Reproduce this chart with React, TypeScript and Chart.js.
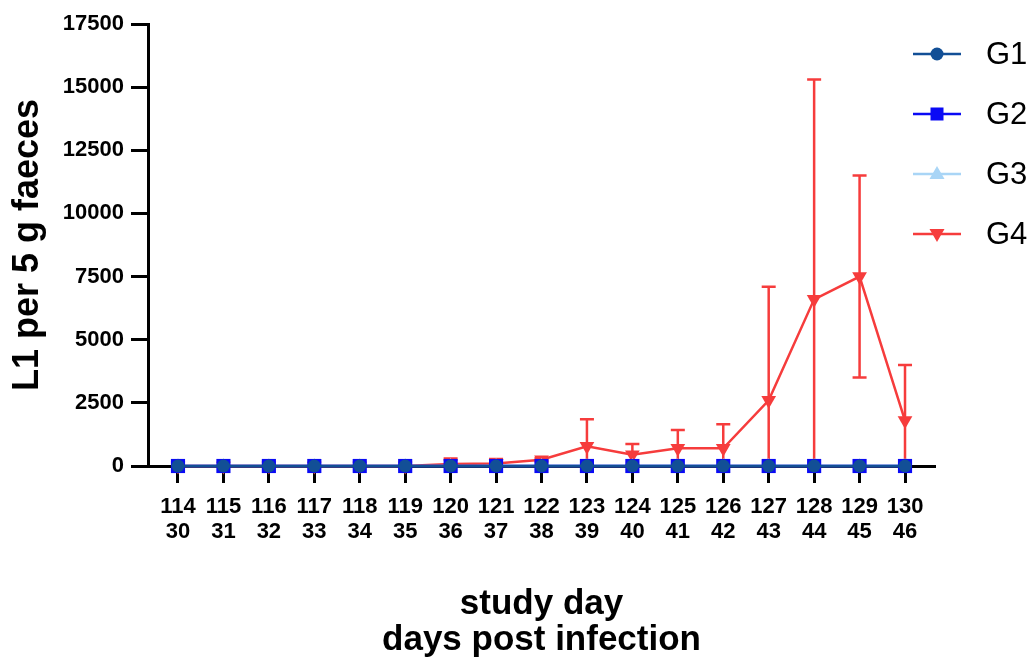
import React, { useEffect, useRef } from "react";
import { Chart, registerables } from "chart.js";

Chart.register(...registerables);

// ---- data ----
const studyDays = [114, 115, 116, 117, 118, 119, 120, 121, 122, 123, 124, 125, 126, 127, 128, 129, 130];
const daysPostInfection = [30, 31, 32, 33, 34, 35, 36, 37, 38, 39, 40, 41, 42, 43, 44, 45, 46];
const g1Values = [0, 0, 0, 0, 0, 0, 0, 0, 0, 0, 0, 0, 0, 0, 0, 0, 0];
const g2Values = [0, 0, 0, 0, 0, 0, 0, 0, 0, 0, 0, 0, 0, 0, 0, 0, 0];
const g3Values = [0, 0, 0, 0, 0, 0, 0, 0, 0, 0, 0, 0, 0, 0, 0, 0, 0];
const g4Mean = [0, 0, 0, 0, 0, 0, 80, 100, 250, 780, 450, 700, 700, 2600, 6600, 7500, 1800];
const g4Sd = [0, 0, 0, 0, 0, 0, 220, 180, 60, 1070, 420, 730, 950, 4500, 8700, 4000, 2200];
const yTicks = [0, 2500, 5000, 7500, 10000, 12500, 15000, 17500];
const seriesNames = ["G1", "G2", "G3", "G4"];

const FONT = "'Liberation Sans', Arial, Helvetica, sans-serif";
const C1 = "#124f96";
const C2 = "#0a0af5";
const C3 = "#a9d5f6";
const C4 = "#f63c3c";

function drawMarker(ctx: CanvasRenderingContext2D, style: string, x: number, y: number, color: string) {
  ctx.save();
  ctx.fillStyle = color;
  ctx.beginPath();
  if (style === "circle") {
    ctx.arc(x, y, 6.5, 0, Math.PI * 2);
  } else if (style === "rect") {
    ctx.rect(x - 6.5, y - 6.5, 13, 13);
  } else if (style === "triangle") {
    ctx.moveTo(x, y - 8);
    ctx.lineTo(x + 7.5, y + 5);
    ctx.lineTo(x - 7.5, y + 5);
    ctx.closePath();
  } else {
    ctx.moveTo(x, y + 8);
    ctx.lineTo(x + 7.5, y - 5);
    ctx.lineTo(x - 7.5, y - 5);
    ctx.closePath();
  }
  ctx.fill();
  ctx.restore();
}

const errorBarPlugin = {
  id: "errorBars",
  beforeDatasetsDraw(chart: any) {
    const ctx = chart.ctx as CanvasRenderingContext2D;
    const yScale = chart.scales.y;
    const meta = chart.getDatasetMeta(3);
    const area = chart.chartArea;
    ctx.save();
    ctx.beginPath();
    ctx.rect(area.left, area.top - 5, area.right - area.left, area.bottom - area.top + 5);
    ctx.clip();
    ctx.strokeStyle = C4;
    ctx.lineWidth = 2.5;
    meta.data.forEach((pt: any, i: number) => {
      const sd = g4Sd[i];
      if (!sd) return;
      const m = g4Mean[i];
      const x = pt.x;
      const yTop = yScale.getPixelForValue(m + sd);
      const lowVal = m - sd;
      const yBot = yScale.getPixelForValue(Math.max(0, lowVal));
      ctx.beginPath();
      ctx.moveTo(x, yBot);
      ctx.lineTo(x, yTop);
      ctx.moveTo(x - 7, yTop);
      ctx.lineTo(x + 7, yTop);
      if (lowVal > 0) {
        ctx.moveTo(x - 7, yBot);
        ctx.lineTo(x + 7, yBot);
      }
      ctx.stroke();
    });
    ctx.restore();
  },
};

const legendPlugin = {
  id: "customLegend",
  afterDraw(chart: any) {
    const ctx = chart.ctx as CanvasRenderingContext2D;
    const colors = [C1, C2, C3, C4];
    const styles = ["circle", "rect", "triangle", "down"];
    ctx.save();
    seriesNames.forEach((name, i) => {
      const y = 54 + i * 60;
      ctx.strokeStyle = colors[i];
      ctx.lineWidth = 2.5;
      ctx.beginPath();
      ctx.moveTo(913, y);
      ctx.lineTo(961, y);
      ctx.stroke();
      drawMarker(ctx, styles[i], 937, y, colors[i]);
      ctx.fillStyle = "#000";
      ctx.font = `31px ${FONT}`;
      ctx.textBaseline = "middle";
      ctx.textAlign = "left";
      ctx.fillText(name, 986, y + 1);
    });
    ctx.restore();
  },
};

export default function App() {
  const canvasRef = useRef<HTMLCanvasElement | null>(null);

  useEffect(() => {
    const canvas = canvasRef.current;
    if (!canvas) return;
    const mk = (vals: number[]) => vals.map((v, i) => ({ x: studyDays[i], y: v }));
    const chart = new Chart(canvas, {
      type: "line",
      data: {
        datasets: [
          {
            label: "G1",
            data: mk(g1Values),
            borderColor: C1,
            backgroundColor: C1,
            borderWidth: 2.5,
            pointStyle: "circle",
            pointRadius: 6.5,
            pointBorderWidth: 0,
            clip: false,
          },
          {
            label: "G2",
            data: mk(g2Values),
            borderColor: C2,
            backgroundColor: C2,
            borderWidth: 2.5,
            pointStyle: "rect",
            pointRadius: 10,
            pointBorderWidth: 0,
            clip: false,
          },
          {
            label: "G3",
            data: mk(g3Values),
            borderColor: C3,
            backgroundColor: C3,
            borderWidth: 2.5,
            pointStyle: "triangle",
            pointRadius: 8,
            pointBorderWidth: 0,
            clip: false,
          },
          {
            label: "G4",
            data: mk(g4Mean),
            borderColor: C4,
            backgroundColor: C4,
            borderWidth: 2.5,
            pointStyle: "triangle",
            pointRotation: 180,
            pointRadius: 8.5,
            pointBorderWidth: 0,
            clip: false,
          },
        ],
      },
      options: {
        animation: false,
        responsive: false,
        maintainAspectRatio: false,
        layout: { padding: { top: 24, right: 100, left: 0, bottom: 0 } },
        plugins: {
          legend: { display: false },
          tooltip: { enabled: false },
        },
        scales: {
          x: {
            type: "linear",
            min: 113.34,
            max: 130.66,
            afterFit(scale: any) {
              scale.height = 193;
            },
            afterBuildTicks(scale: any) {
              scale.ticks = studyDays.map((v) => ({ value: v }));
            },
            ticks: {
              autoSkip: false,
              maxRotation: 0,
              minRotation: 0,
              padding: 11,
              color: "#000",
              font: { family: FONT, size: 22, weight: "bold", lineHeight: 1.15 },
              callback(value: any) {
                const i = studyDays.indexOf(Number(value));
                return [String(value), String(daysPostInfection[i])];
              },
            },
            grid: {
              display: true,
              drawOnChartArea: false,
              drawTicks: true,
              tickLength: 17,
              tickWidth: 3,
              tickColor: "#000",
            },
            border: { display: true, color: "#000", width: 3 },
            title: {
              display: true,
              text: ["study day", "days post infection"],
              color: "#000",
              font: { family: FONT, size: 35, weight: "bold", lineHeight: 1.05 },
              padding: { top: 0, bottom: 0 },
            },
          },
          y: {
            type: "linear",
            min: 0,
            max: 17500,
            afterFit(scale: any) {
              scale.width = 148;
            },
            afterBuildTicks(scale: any) {
              scale.ticks = yTicks.map((v) => ({ value: v }));
            },
            ticks: {
              padding: 7,
              color: "#000",
              font: { family: FONT, size: 22, weight: "bold" },
              callback(value: any) {
                return String(value);
              },
            },
            grid: {
              display: true,
              drawOnChartArea: false,
              drawTicks: true,
              tickLength: 17,
              tickWidth: 3,
              tickColor: "#000",
            },
            border: { display: true, color: "#000", width: 3 },
            title: {
              display: true,
              text: "L1 per 5 g faeces",
              color: "#000",
              font: { family: FONT, size: 36, weight: "bold", lineHeight: 1.2 },
              padding: { top: 6, bottom: 0 },
            },
          },
        },
      },
      plugins: [errorBarPlugin, legendPlugin],
    } as any);
    return () => chart.destroy();
  }, []);

  return (
    <div style={{ position: "fixed", left: 0, top: 0, width: 1035, height: 659, background: "#fff" }}>
      <canvas ref={canvasRef} width={1035} height={659} style={{ display: "block", width: 1035, height: 659 }} />
    </div>
  );
}
